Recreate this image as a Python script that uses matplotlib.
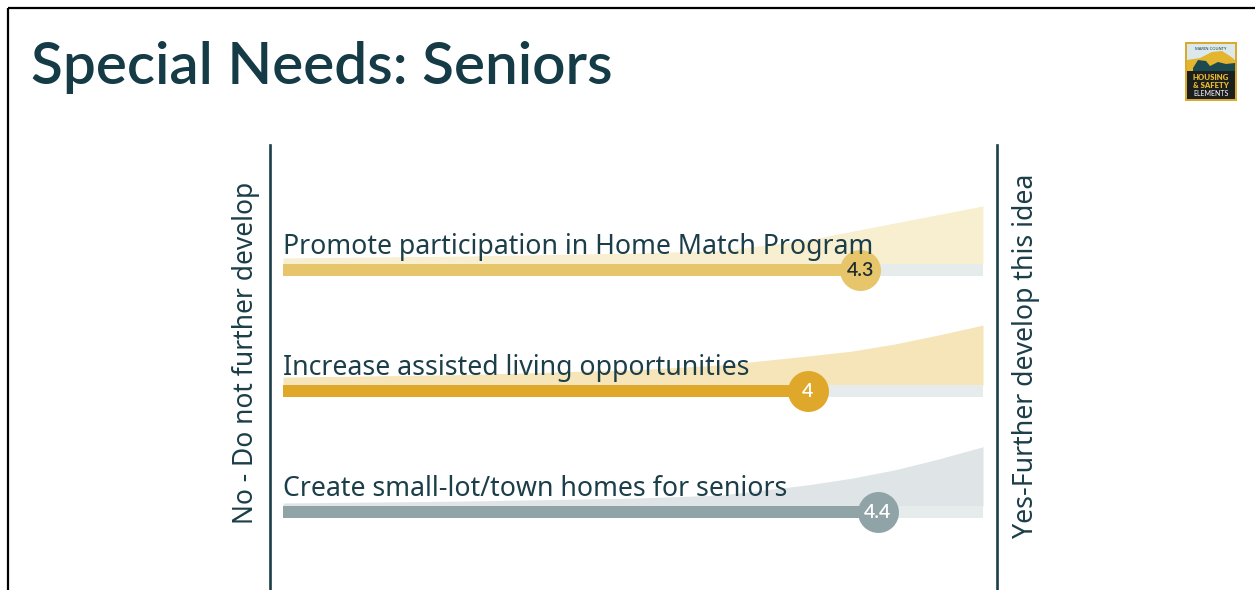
import matplotlib
matplotlib.use("Agg")
import matplotlib.pyplot as plt
from matplotlib.patches import Rectangle, Polygon

# ---------------- data ----------------
categories = [
    "Promote participation in Home Match Program",
    "Increase assisted living opportunities",
    "Create small-lot/town homes for seniors",
]
scores = [4.3, 4.0, 4.4]
score_labels = ["4.3", "4", "4.4"]
# response distribution profile (relative height) sampled along the 1..5 scale
dist_x = [1, 2, 3, 3.5, 4, 4.25, 4.5, 4.75, 5]
dist_promote = [0.10, 0.13, 0.18, 0.22, 0.40, 0.54, 0.68, 0.82, 0.96]
dist_assisted = [0.13, 0.17, 0.25, 0.33, 0.48, 0.56, 0.68, 0.83, 0.99]
dist_townhomes = [0.05, 0.08, 0.13, 0.18, 0.35, 0.46, 0.60, 0.78, 0.98]
dists = [dist_promote, dist_assisted, dist_townhomes]
scale_min, scale_max = 1, 5

title = "Special Needs: Seniors"
left_label = "No - Do not further develop"
right_label = "Yes-Further develop this idea"

# ---------------- style ----------------
FONT = ["Noto Sans", "DejaVu Sans"]
TFONT = ["Lato", "DejaVu Sans"]
TEXT = "#1c3e48"
bar_colors = ["#e7c56b", "#dfa82a", "#90a4a8"]
area_colors = ["#f8eed0", "#f6e5b8", "#dfe5e6"]
value_colors = ["#1f2d30", "white", "white"]
TRACK = "#e6ebec"

W, H = 1255, 590
fig = plt.figure(figsize=(W / 100, H / 100), dpi=100)
fig.patch.set_facecolor("white")

# decoration overlay in pixel coords
deco = fig.add_axes([0, 0, 1, 1])
deco.set_xlim(0, W)
deco.set_ylim(H, 0)
deco.axis("off")
deco.plot([8, W], [8, 8], color="black", lw=1.6, solid_capstyle="butt")
deco.plot([8, 8], [8, H], color="black", lw=1.6, solid_capstyle="butt")
deco.text(31, 84, title, fontsize=42, fontweight="semibold", color="#153b46",
          family=TFONT, va="baseline", ha="left")
deco.plot([270, 270], [145, H], color=TEXT, lw=1.9)
deco.plot([997, 997], [145, H], color=TEXT, lw=1.9)
deco.text(246, 353, left_label, rotation=90, fontsize=19, color=TEXT,
          family=FONT, ha="center", va="center")
deco.text(1026, 356, right_label, rotation=90, fontsize=19.2, color=TEXT,
          family=FONT, ha="center", va="center")

# logo
deco.add_patch(Rectangle((1185, 42), 52, 59, facecolor="#d9aa2e", edgecolor="none"))
deco.add_patch(Rectangle((1187, 44), 48, 27, facecolor="#dbe9ec", edgecolor="none"))
deco.add_patch(Polygon([(1187, 71), (1187, 60), (1200, 58), (1212, 52), (1222, 51),
                        (1230, 56), (1235, 60), (1235, 71)],
                       facecolor="#e4b52f", edgecolor="none"))
deco.add_patch(Polygon([(1193, 68), (1198, 60), (1206, 61), (1210, 66), (1218, 62),
                        (1226, 64), (1235, 63), (1235, 71), (1193, 71)],
                       facecolor="#1c4a4e", edgecolor="none"))
deco.add_patch(Rectangle((1187, 71), 48, 28, facecolor="#1b1f1e", edgecolor="none"))
deco.text(1211, 48.5, "MARIN COUNTY", fontsize=3.0, color="#1c3e48", ha="center",
          va="center", family=FONT, fontweight="bold")
deco.text(1211, 77, "HOUSING", fontsize=5.6, color="#e9b830", ha="center",
          va="center", family=TFONT, fontweight="heavy")
deco.text(1211, 85, "& SAFETY", fontsize=5.6, color="#e9b830", ha="center",
          va="center", family=TFONT, fontweight="heavy")
deco.text(1211, 93, "ELEMENTS", fontsize=5.0, color="white", ha="center",
          va="center", family=TFONT)

# ---------------- data axes ----------------
x0_px, x1_px = 283, 983
row0_px, row_step_px = 264, 121
ax = fig.add_axes([x0_px / W, 0, (x1_px - x0_px) / W, 1])
ax.set_xlim(scale_min, scale_max)
ax.set_ylim((H - row0_px) / row_step_px, -row0_px / row_step_px)
ax.axis("off")
ax.patch.set_alpha(0)

bar_h = 12 / row_step_px
area_scale = 60.5 / row_step_px
for i, (cat, sc, lab, d) in enumerate(zip(categories, scores, score_labels, dists)):
    top = [i - v * area_scale for v in d]
    ax.fill_between(dist_x, top, [i] * len(dist_x), color=area_colors[i],
                    lw=0, zorder=1)
    ax.barh(i, scale_max - scale_min, left=scale_min, height=bar_h, align="edge",
            color=TRACK, zorder=2)
    ax.barh(i, sc - scale_min, left=scale_min, height=bar_h, align="edge",
            color=bar_colors[i], zorder=3)
    ax.scatter([sc], [i + bar_h / 2], s=870, color=bar_colors[i], zorder=4,
               linewidths=0)
    ax.text(sc, i + bar_h / 2, lab, ha="center", va="center", fontsize=14,
            fontweight="semibold", color=value_colors[i], family=TFONT, zorder=6)
    ax.text(scale_min, i - 10 / row_step_px, cat, ha="left", va="baseline",
            fontsize=19.2, color=TEXT, family=FONT, zorder=5)

fig.savefig("out.png", dpi=100, facecolor="white")
